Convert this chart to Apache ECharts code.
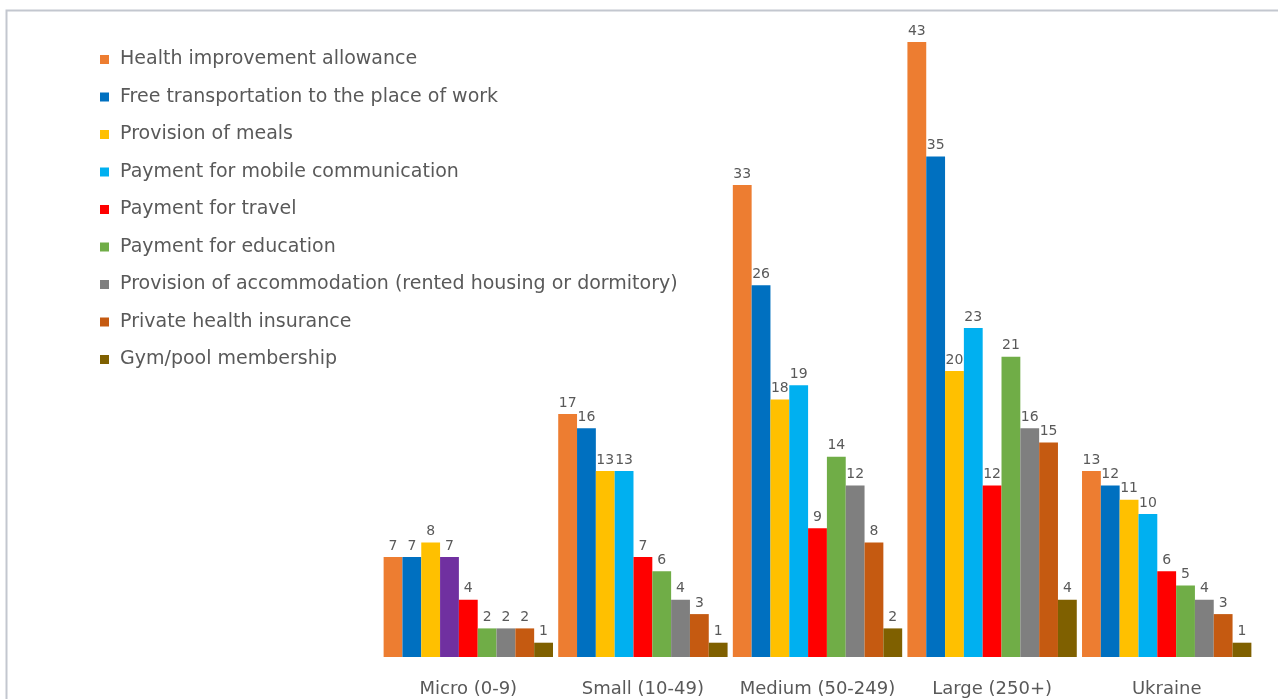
<!DOCTYPE html>
<html>
<head>
<meta charset="utf-8">
<style>
  html, body { margin: 0; padding: 0; background: #ffffff; }
  #chart { width: 1278px; height: 699px; }
</style>
<script src="https://cdn.jsdelivr.net/npm/echarts@6/dist/echarts.min.js"></script>
</head>
<body>
<div id="chart"></div>
<script>
// Enterprise size groups
const categories = ['Micro (0-9)', 'Small (10-49)', 'Medium (50-249)', 'Large (250+)', 'Ukraine'];

// Benefit types (one series each)
const seriesNames = [
  'Health improvement allowance',
  'Free transportation to the place of work',
  'Provision of meals',
  'Payment for mobile communication',
  'Payment for travel',
  'Payment for education',
  'Provision of accommodation (rented housing or dormitory)',
  'Private health insurance',
  'Gym/pool membership'
];

// Share of enterprises offering each benefit, %
const healthAllowance   = [7, 17, 33, 43, 13];
const freeTransport     = [7, 16, 26, 35, 12];
const meals             = [8, 13, 18, 20, 11];
const mobilePayment     = [7, 13, 19, 23, 10];
const travelPayment     = [4, 7, 9, 12, 6];
const educationPayment  = [2, 6, 14, 21, 5];
const accommodation     = [2, 4, 12, 16, 4];
const healthInsurance   = [2, 3, 8, 15, 3];
const gymMembership     = [1, 1, 2, 4, 1];

const seriesValues = [
  healthAllowance, freeTransport, meals, mobilePayment, travelPayment,
  educationPayment, accommodation, healthInsurance, gymMembership
];

const palette = ['#ED7D31', '#0070C0', '#FFC000', '#00B0F0', '#FF0000',
                 '#70AD47', '#7F7F7F', '#C55A11', '#7F6000'];

const FONT = 'DejaVu Sans, Noto Sans, sans-serif';

const chart = echarts.init(document.getElementById('chart'), null, { renderer: 'canvas' });

const series = seriesValues.map((vals, i) => ({
  name: seriesNames[i],
  type: 'bar',
  barGap: '0%',
  barCategoryGap: '3%',
  itemStyle: { color: palette[i] },
  label: {
    show: true,
    position: 'top',
    distance: 4,
    color: '#595959',
    fontFamily: FONT,
    fontSize: 14
  },
  // the Micro bar for mobile communication is drawn in purple
  data: vals.map((v, j) => (i === 3 && j === 0)
    ? { value: v, itemStyle: { color: '#7030A0' } }
    : v)
}));

chart.setOption({
  animation: false,
  backgroundColor: '#ffffff',
  color: palette,
  grid: { left: 381, right: 24, top: 13.5, bottom: 42, containLabel: false },
  legend: {
    orient: 'vertical',
    left: 95,
    top: 45,
    icon: 'rect',
    itemWidth: 9,
    itemHeight: 9,
    itemGap: 18.5,
    data: seriesNames,
    formatter: name => ' ' + name,
    textStyle: {
      color: '#595959',
      fontFamily: FONT,
      fontSize: 19,
      lineHeight: 18
    }
  },
  xAxis: {
    type: 'category',
    data: categories,
    axisLine: { show: false },
    axisTick: { show: false },
    axisLabel: {
      interval: 0,
      hideOverlap: false,
      color: '#595959',
      fontFamily: FONT,
      fontSize: 18,
      margin: 23
    }
  },
  yAxis: {
    type: 'value',
    min: 0,
    max: 45,
    show: false,
    splitLine: { show: false }
  },
  graphic: [
    {
      type: 'polyline',
      shape: { points: [[6.5, 699], [6.5, 10.5], [1278, 10.5]] },
      style: { stroke: '#c3c7cf', lineWidth: 2, fill: null },
      silent: true
    }
  ],
  series: series
});
</script>
</body>
</html>
